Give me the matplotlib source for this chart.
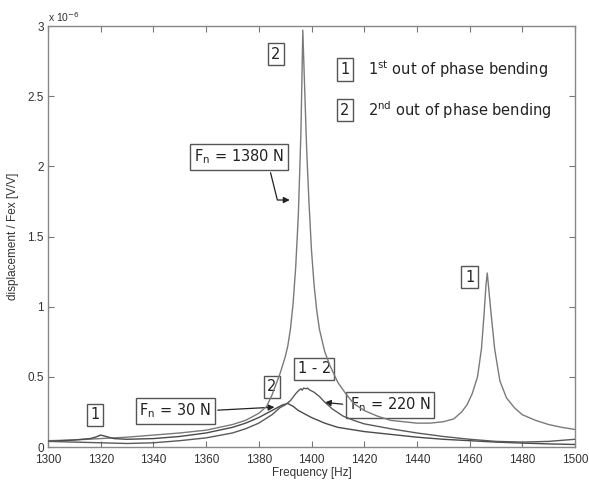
import matplotlib
matplotlib.use("Agg")
import matplotlib.pyplot as plt
import numpy as np

# ---------------- data ----------------
f_1380 = [1300, 1310, 1320, 1330, 1340, 1350, 1360, 1365, 1370, 1375, 1380, 1383, 1385,
          1388, 1390, 1391, 1392, 1393, 1394, 1395, 1396, 1396.7, 1397.5, 1398.2, 1399,
          1400, 1401, 1402, 1403, 1405, 1407, 1410, 1413, 1416, 1420, 1425, 1430, 1435,
          1440, 1445, 1450, 1454, 1457, 1459, 1461, 1463, 1464.5, 1465.5, 1466.2, 1466.7,
          1467.3, 1468, 1469.5, 1471.5, 1474, 1477, 1480, 1485, 1490, 1495, 1500]
v_1380 = [0.045, 0.05, 0.06, 0.07, 0.085, 0.10, 0.12, 0.14, 0.16, 0.19, 0.24, 0.29, 0.37,
          0.52, 0.64, 0.72, 0.84, 1.02, 1.28, 1.65, 2.25, 2.97, 2.5, 2.1, 1.76,
          1.4, 1.15, 0.97, 0.84, 0.68, 0.58, 0.46, 0.38, 0.31, 0.26, 0.22, 0.19, 0.18,
          0.17, 0.17, 0.18, 0.20, 0.25, 0.30, 0.38, 0.50, 0.70, 0.95, 1.15, 1.24,
          1.12, 0.98, 0.70, 0.47, 0.35, 0.28, 0.23, 0.19, 0.16, 0.14, 0.125]

f_30 = [1300, 1310, 1316, 1318, 1320, 1322, 1325, 1330, 1340, 1350, 1360, 1370, 1375,
        1380, 1384, 1387, 1389, 1391, 1393, 1395, 1398, 1400, 1405, 1410, 1420, 1430,
        1440, 1450, 1460, 1470, 1480, 1490, 1500]
v_30 = [0.04, 0.05, 0.06, 0.07, 0.085, 0.075, 0.06, 0.055, 0.06, 0.075, 0.10, 0.14, 0.17,
        0.21, 0.25, 0.28, 0.30, 0.31, 0.29, 0.26, 0.23, 0.21, 0.17, 0.14, 0.11, 0.09,
        0.07, 0.055, 0.045, 0.035, 0.028, 0.022, 0.018]

f_220 = [1300, 1310, 1320, 1330, 1340, 1350, 1360, 1370, 1375, 1380, 1385, 1388, 1390,
         1392, 1394, 1395, 1396, 1396.5, 1397, 1398, 1398.5, 1399, 1401, 1403, 1405, 1408,
         1412, 1416, 1420, 1430, 1440, 1450, 1460, 1470, 1480, 1490, 1500]
v_220 = [0.04, 0.035, 0.03, 0.025, 0.03, 0.045, 0.065, 0.10, 0.13, 0.17, 0.23, 0.28, 0.30,
         0.33, 0.38, 0.40, 0.415, 0.405, 0.42, 0.415, 0.42, 0.41, 0.39, 0.36, 0.32, 0.27,
         0.22, 0.19, 0.165, 0.13, 0.10, 0.075, 0.055, 0.04, 0.035, 0.04, 0.055]

x_ticks = [1300, 1320, 1340, 1360, 1380, 1400, 1420, 1440, 1460, 1480, 1500]
y_ticks = [0, 0.5, 1, 1.5, 2, 2.5, 3]
y_ticklabels = ["0", "0.5", "1", "1.5", "2", "2.5", "3"]

# ---------------- figure ----------------
plt.rcParams['mathtext.fontset'] = 'dejavusans'
fig = plt.figure(figsize=(5.89, 4.83), dpi=100)
ax = fig.add_axes([48/589, 36/483, (575-48)/589, (447-26)/483])

ax.plot(f_1380, v_1380, color='#7a7a7a', lw=1.0, zorder=3)
ax.plot(f_30, v_30, color='#4a4a4a', lw=1.0, zorder=3)
ax.plot(f_220, v_220, color='#5a5a5a', lw=1.0, zorder=3)

ax.set_xlim(1300, 1500)
ax.set_ylim(0, 3)
ax.set_xticks(x_ticks)
ax.set_yticks(y_ticks)
ax.set_yticklabels(y_ticklabels)
ax.tick_params(direction='in', top=True, right=True, length=4, color='#777777',
               labelsize=8.5, labelcolor='#333333')
ax.tick_params(axis='x', pad=5)
ax.tick_params(axis='y', pad=3)
for lab in ax.get_xticklabels() + ax.get_yticklabels():
    lab.set_family('Liberation Sans')
for s in ax.spines.values():
    s.set_color('#888888')
    s.set_linewidth(1.0)

ax.set_xlabel('Frequency [Hz]', fontsize=8.5, family='Liberation Sans', color='#333333', labelpad=1)
ax.set_ylabel('displacement / Fex [V/V]', fontsize=8.5, family='Liberation Sans', color='#333333', labelpad=6)
ax.text(0.0, 1.005, r'x 10$^{-6}$', transform=ax.transAxes, fontsize=7.5,
        family='Liberation Sans', color='#333333', ha='left', va='bottom')

box = dict(boxstyle='square,pad=0.25', fc='white', ec='#555555', lw=1.0)
tkw = dict(fontsize=10.5, family='DejaVu Sans', color='#222222', ha='center', va='center', zorder=2)

ax.text(1386.5, 2.80, '2', bbox=box, **tkw)
ax.text(1460, 1.21, '1', bbox=box, **tkw)
ax.text(1317.8, 0.23, '1', bbox=box, **tkw)
ax.text(1385, 0.43, '2', bbox=box, **tkw)
ax.text(1401, 0.556, '1 - 2', bbox=box, **tkw)

# legend-like labels
ax.text(1412.7, 2.69, '1', bbox=box, **tkw)
ax.text(1412.7, 2.40, '2', bbox=box, **tkw)
ax.text(1421.5, 2.69, r'1$^{\mathrm{st}}$ out of phase bending', fontsize=10.5, family='DejaVu Sans',
        color='#222222', ha='left', va='center')
ax.text(1421.5, 2.40, r'2$^{\mathrm{nd}}$ out of phase bending', fontsize=10.5, family='DejaVu Sans',
        color='#222222', ha='left', va='center')

# force annotations
akw = dict(arrowstyle='-|>', color='#222222', lw=0.9, mutation_scale=9)
ax.annotate(r'F$_\mathrm{n}$ = 1380 N', xy=(1392.8, 1.76), xytext=(1372.5, 2.07),
            bbox=box,
            arrowprops=dict(connectionstyle='angle,angleA=-76,angleB=0,rad=0',
                            relpos=(0.83, 0.0), **akw),
            **tkw)
ax.annotate(r'F$_\mathrm{n}$ = 30 N', xy=(1387.0, 0.285), xytext=(1348.2, 0.26),
            bbox=box, arrowprops=dict(relpos=(1.0, 0.5), **akw), **tkw)
ax.annotate(r'F$_\mathrm{n}$ = 220 N', xy=(1404.0, 0.32), xytext=(1429.8, 0.30),
            bbox=box, arrowprops=dict(relpos=(0.0, 0.5), **akw), **tkw)

fig.savefig('out.png', dpi=100)
